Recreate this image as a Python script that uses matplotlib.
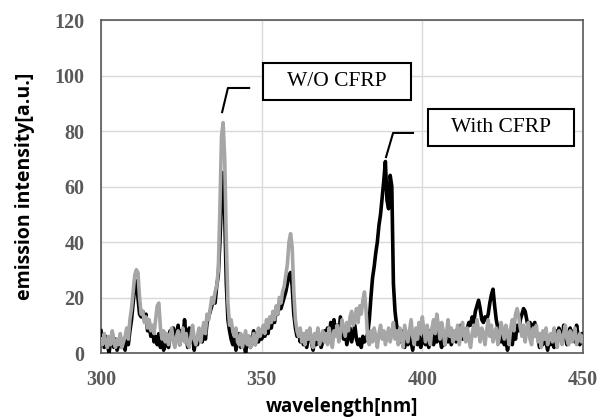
import numpy as np
import matplotlib
matplotlib.use("Agg")
import matplotlib.pyplot as plt
from matplotlib.patches import Rectangle

# wavelength grid, 0.5 nm step
wavelength = np.arange(300, 450.01, 0.5)

# W/O CFRP (gray), one row per 10 nm
wo_cfrp = [
    5, 3, 7, 4, 2, 6, 3, 8, 4, 2, 5, 3, 7, 2, 4, 6, 9, 5, 12, 16,            # 300
    22, 28, 30, 29, 20, 14, 15, 11, 13, 9, 12, 8, 10, 7, 12, 17, 18, 9, 5, 8,  # 310
    4, 7, 3, 6, 9, 4, 2, 6, 8, 3, 5, 9, 4, 7, 3, 2, 6, 10, 5, 3,             # 320
    6, 9, 4, 8, 11, 7, 14, 12, 16, 20, 18, 22, 24, 30, 52, 78, 83, 70, 40, 18,  # 330
    10, 12, 8, 6, 9, 4, 3, 7, 2, 5, 8, 3, 6, 2, 4, 7, 3, 5, 9, 6,            # 340
    8, 10, 7, 12, 9, 13, 11, 15, 12, 17, 14, 20, 18, 22, 24, 28, 32, 40, 43, 38,  # 350
    22, 12, 8, 6, 9, 4, 7, 3, 8, 5, 9, 4, 2, 7, 5, 9, 3, 6, 8, 4,            # 360
    7, 3, 9, 5, 2, 8, 6, 10, 4, 7, 12, 9, 6, 11, 8, 13, 15, 10, 12, 16,      # 370
    11, 17, 14, 19, 22, 15, 5, 3, 8, 4, 9, 6, 2, 7, 10, 5, 8, 3, 6, 9,       # 380
    4, 7, 11, 5, 8, 3, 9, 6, 2, 10, 7, 4, 8, 12, 6, 3, 9, 5, 11, 7,          # 390
    13, 8, 4, 10, 6, 3, 9, 12, 7, 14, 10, 5, 11, 8, 3, 7, 12, 6, 9, 4,       # 400
    8, 5, 10, 3, 7, 11, 6, 4, 9, 5, 2, 7, 10, 6, 12, 8, 4, 9, 7, 3,          # 410
    8, 12, 6, 10, 4, 7, 9, 3, 6, 11, 8, 5, 10, 7, 3, 9, 12, 8, 14, 16,       # 420
    13, 9, 6, 10, 4, 8, 11, 5, 3, 9, 6, 10, 4, 7, 2, 8, 5, 9, 3, 6,          # 430
    7, 4, 9, 5, 2, 8, 6, 3, 7, 10, 5, 3, 8, 4, 6, 9, 3, 5, 7, 4, 6,          # 440-450
]

# With CFRP (black)
with_cfrp = [
    8, 5, 2, 6, 3, 0, 4, 7, 2, 5, 1, 3, 6, 2, 4, 1, 7, 3, 8, 12,             # 300
    18, 24, 26, 20, 14, 13, 15, 12, 14, 8, 10, 6, 9, 4, 6, 3, 7, 2, 5, 1,     # 310
    3, 6, 2, 8, 5, 9, 4, 7, 10, 3, 8, 5, 12, 6, 2, 9, 4, 7, 1, 5,            # 320
    3, 6, 8, 4, 9, 5, 11, 13, 15, 17, 20, 18, 24, 28, 40, 55, 65, 50, 25, 12,  # 330
    8, 5, 3, 6, 1, 4, 7, 2, 5, 3, 0, 4, 6, 2, 5, 8, 3, 6, 4, 7,              # 340
    5, 8, 6, 10, 7, 12, 9, 13, 11, 15, 14, 17, 16, 18, 20, 22, 25, 28, 29, 24,  # 350
    14, 9, 6, 8, 4, 7, 3, 6, 2, 5, 8, 4, 1, 6, 3, 7, 5, 2, 4, 8,             # 360
    6, 9, 5, 11, 8, 12, 7, 10, 6, 13, 9, 5, 8, 3, 6, 9, 4, 7, 10, 5,         # 370
    3, 5, 2, 6, 4, 5, 7, 12, 20, 27, 31, 36, 40, 46, 50, 56, 62, 69, 55, 52,  # 380
    64, 60, 25, 15, 10, 7, 4, 8, 5, 2, 6, 3, 7, 4, 1, 5, 8, 3, 6, 2,         # 390
    4, 7, 3, 6, 2, 8, 5, 3, 7, 4, 9, 5, 2, 6, 3, 8, 4, 7, 3, 5,              # 400
    7, 4, 9, 6, 10, 5, 8, 7, 9, 11, 10, 13, 11, 15, 17, 19, 16, 12, 11, 13,  # 410
    12, 14, 18, 21, 23, 17, 12, 9, 6, 4, 7, 3, 5, 1, 4, 6, 3, 8, 5, 10,      # 420
    8, 12, 14, 16, 15, 12, 9, 11, 8, 10, 11, 7, 5, 2, 6, 3, 7, 4, 1, 5,      # 430
    3, 6, 2, 8, 5, 9, 7, 4, 10, 6, 3, 7, 9, 5, 8, 4, 10, 6, 3, 7, 5,         # 440-450
]

assert len(wo_cfrp) == len(wavelength) and len(with_cfrp) == len(wavelength)

fig = plt.figure(figsize=(6.1, 4.19), dpi=100)
ax = fig.add_axes([101 / 610, 66 / 419, 482 / 610, 333 / 419])

ax.plot(wavelength, with_cfrp, color="black", lw=2.6, zorder=3)
ax.plot(wavelength, wo_cfrp, color="#a6a6a6", lw=2.6, zorder=4)

ax.set_xlim(300, 450)
ax.set_ylim(0, 120)
ax.set_xticks([300, 350, 400, 450])
ax.set_yticks(range(0, 121, 20))
ax.grid(True, color="#d9d9d9", lw=1)
ax.set_axisbelow(True)
ax.tick_params(length=0, pad=12, labelcolor="#595959")
for lab in ax.get_xticklabels() + ax.get_yticklabels():
    lab.set_fontfamily("Liberation Serif")
    lab.set_fontweight("bold")
    lab.set_fontsize(14.5)
for s in ax.spines.values():
    s.set_color("#595959")
    s.set_linewidth(1.2)

ax.set_xlabel("wavelength[nm]", fontfamily="Open Sans", fontweight="bold",
              fontsize=13.5, labelpad=5)
ax.set_ylabel("emission intensity[a.u.]", fontfamily="Open Sans", fontweight="bold",
              fontsize=14, labelpad=14)

# callout boxes
for (x0, x1, y0, y1, txt) in [(350.4, 396.5, 91.2, 104.5, "W/O CFRP"),
                              (401.8, 447.2, 74.6, 87.9, "With CFRP")]:
    ax.add_patch(Rectangle((x0, y0), x1 - x0, y1 - y0, fill=True, fc="white",
                           ec="black", lw=1.5, zorder=6, clip_on=False))
    ax.text((x0 + x1) / 2, (y0 + y1) / 2, txt, ha="center", va="center",
            fontfamily="Liberation Serif", fontsize=15.5, zorder=7)

ax.plot([337.7, 339.5, 346.1], [86.8, 95.5, 95.5], color="black", lw=1.5, zorder=6)
ax.plot([388.7, 390.9, 397.1], [70.6, 79.3, 79.3], color="black", lw=1.5, zorder=6)

fig.savefig("out.png", dpi=100)
